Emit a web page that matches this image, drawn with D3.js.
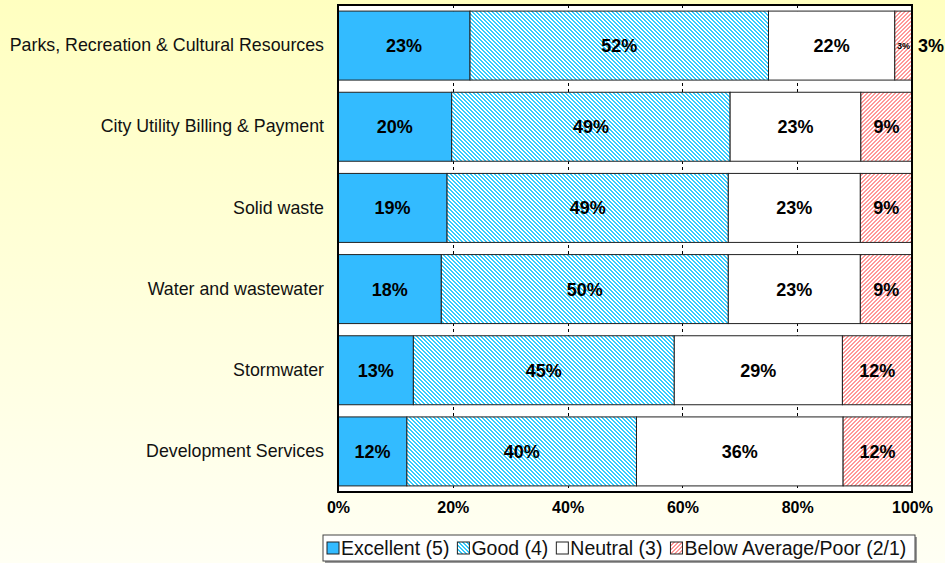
<!DOCTYPE html>
<html lang="en">
    <head>
        <meta charset="utf-8">
        <script src="https://cdn.jsdelivr.net/npm/d3@7"></script>
        <style type="text/css">
        body {
          margin: 0;
          font-family: "Liberation Sans", Arial, sans-serif;
        }
        </style>
    </head>
    <body>
        <script>
                  // data (percent of respondents)
                  var categories = ["Parks, Recreation & Cultural Resources", "City Utility Billing & Payment",
                                    "Solid waste", "Water and wastewater", "Stormwater", "Development Services"];
                  var excellent = [23, 20, 19, 18, 13, 12];
                  var good = [52, 49, 49, 50, 45, 40];
                  var neutral = [22, 23, 23, 23, 29, 36];
                  var below = [3, 9, 9, 9, 12, 12];
                  var seriesNames = ["Excellent (5)", "Good (4)", "Neutral (3)", "Below Average/Poor (2/1)"];
                  var xTicks = [0, 0.2, 0.4, 0.6, 0.8, 1];

                  var w = 945;
                  var h = 563;
                  var plotLeft = 338, plotRight = 912, plotTop = 5, plotBottom = 492;

                  var svg = d3.select("body")
                              .append("svg")
                              .attr("width", w)
                              .attr("height", h);

                  var defs = svg.append("defs");

                  // yellow page background
                  var grad = defs.append("linearGradient")
                      .attr("id", "bg")
                      .attr("x1", 0).attr("y1", 0).attr("x2", 0).attr("y2", 1);
                  grad.append("stop").attr("offset", "0%").attr("stop-color", "#ffffc0");
                  grad.append("stop").attr("offset", "100%").attr("stop-color", "#fffff4");

                  // hatch patterns, built pixel by pixel
                  function hatch(id, colour, down) {
                    var p = defs.append("pattern")
                        .attr("id", id)
                        .attr("patternUnits", "userSpaceOnUse")
                        .attr("width", 4).attr("height", 4);
                    p.append("rect").attr("width", 4).attr("height", 4).attr("fill", "#fff");
                    for (var y = 0; y < 4; y++) {
                      var x0 = down ? y : 3 - y;
                      [x0, (x0 + 1) % 4].forEach(function(x) {
                        p.append("rect")
                          .attr("x", x).attr("y", y)
                          .attr("width", 1).attr("height", 1)
                          .attr("fill", colour)
                          .attr("shape-rendering", "crispEdges");
                      });
                    }
                  }
                  hatch("goodHatch", "#33ccff", true);
                  hatch("belowHatch", "#ff9999", false);

                  var fills = ["#33bbff", "url(#goodHatch)", "#ffffff", "url(#belowHatch)"];

                  svg.append("rect")
                     .attr("width", w).attr("height", h)
                     .attr("fill", "url(#bg)");

                  var rows = categories.map(function(c, i) {
                    return {cat: c, s0: excellent[i], s1: good[i], s2: neutral[i], s3: below[i]};
                  });
                  var keys = ["s0", "s1", "s2", "s3"];
                  var stacked = d3.stack().keys(keys).offset(d3.stackOffsetExpand)(rows);

                  var xScale = d3.scaleLinear()
                    .domain([0, 1])
                    .range([plotLeft, plotRight]);

                  var yScale = d3.scaleBand()
                    .domain(categories)
                    .range([plotTop, plotBottom])
                    .paddingInner(0.15)
                    .paddingOuter(0.075);

                  // plot area
                  svg.append("rect")
                     .attr("x", plotLeft).attr("y", plotTop)
                     .attr("width", plotRight - plotLeft).attr("height", plotBottom - plotTop)
                     .attr("fill", "#fff");

                  // dashed gridlines (only show in the gaps)
                  svg.append("g")
                     .selectAll("line")
                     .data(xTicks.slice(1, -1))
                     .enter()
                     .append("line")
                     .attr("x1", function(d) { return Math.round(xScale(d)) + 0.5; })
                     .attr("x2", function(d) { return Math.round(xScale(d)) + 0.5; })
                     .attr("y1", plotTop).attr("y2", plotBottom)
                     .attr("stroke", "#000")
                     .attr("stroke-dasharray", "3,3");

                  // stacked bars
                  var layer = svg.selectAll("g.layer")
                     .data(stacked)
                     .enter()
                     .append("g")
                     .attr("class", "layer")
                     .attr("fill", function(d, i) { return fills[i]; });

                  layer.selectAll("rect")
                     .data(function(d) { return d; })
                     .enter()
                     .append("rect")
                     .attr("x", function(d) { return xScale(d[0]); })
                     .attr("y", function(d) { return yScale(d.data.cat); })
                     .attr("width", function(d) { return xScale(d[1]) - xScale(d[0]); })
                     .attr("height", yScale.bandwidth())
                     .attr("stroke", "#222")
                     .attr("stroke-width", 1);

                  // value labels
                  layer.selectAll("text")
                     .data(function(d) { return d.map(function(p) { return {p: p, key: d.key}; }); })
                     .enter()
                     .append("text")
                     .attr("x", function(d) { return (xScale(d.p[0]) + xScale(d.p[1])) / 2; })
                     .attr("y", function(d) { return yScale(d.p.data.cat) + yScale.bandwidth() / 2; })
                     .attr("dy", "0.36em")
                     .attr("text-anchor", "middle")
                     .attr("fill", "#000")
                     .attr("font-weight", "bold")
                     .attr("font-size", function(d) { return d.p.data[d.key] < 5 ? 9 : 18; })
                     .text(function(d) { return d.p.data[d.key] + "%"; });

                  // small slice also gets a label outside the bar
                  svg.selectAll("text.outside")
                     .data(rows.filter(function(r) { return r.s3 < 5; }))
                     .enter()
                     .append("text")
                     .attr("class", "outside")
                     .attr("x", plotRight + 6)
                     .attr("y", function(d) { return yScale(d.cat) + yScale.bandwidth() / 2; })
                     .attr("dy", "0.36em")
                     .attr("font-weight", "bold")
                     .attr("font-size", 18)
                     .text(function(d) { return d.s3 + "%"; });

                  // plot border
                  svg.append("rect")
                     .attr("x", plotLeft).attr("y", plotTop)
                     .attr("width", plotRight - plotLeft).attr("height", plotBottom - plotTop)
                     .attr("fill", "none")
                     .attr("stroke", "#000")
                     .attr("stroke-width", 2);

                  // category labels
                  var yAxis = svg.append("g")
                      .attr("transform", "translate(" + (plotLeft - 14) + ",0)")
                      .call(d3.axisLeft(yScale).tickSize(0).tickPadding(0));
                  yAxis.select(".domain").remove();
                  yAxis.selectAll("text")
                      .attr("font-family", "Liberation Sans, Arial, sans-serif")
                      .attr("font-size", 17.8)
                      .attr("fill", "#111");

                  // x axis
                  var xAxis = svg.append("g")
                      .attr("transform", "translate(0," + plotBottom + ")")
                      .call(d3.axisBottom(xScale).tickValues(xTicks).tickFormat(d3.format(".0%")).tickSize(0).tickPadding(10));
                  xAxis.select(".domain").remove();
                  xAxis.selectAll("text")
                      .attr("font-family", "Liberation Sans, Arial, sans-serif")
                      .attr("font-size", 16)
                      .attr("font-weight", "bold")
                      .attr("fill", "#000");

                  // legend
                  var legendX = 323, legendY = 535, legendW = 592, legendH = 26;
                  svg.append("rect")
                     .attr("x", legendX + 2).attr("y", legendY + 2)
                     .attr("width", legendW).attr("height", legendH)
                     .attr("fill", "#999");
                  svg.append("rect")
                     .attr("x", legendX).attr("y", legendY)
                     .attr("width", legendW).attr("height", legendH)
                     .attr("fill", "#fff")
                     .attr("stroke", "#444");

                  var lx = legendX + 4;
                  seriesNames.forEach(function(name, i) {
                    svg.append("rect")
                       .attr("x", lx).attr("y", legendY + legendH / 2 - 6)
                       .attr("width", 12).attr("height", 12)
                       .attr("fill", fills[i])
                       .attr("stroke", "#222");
                    var t = svg.append("text")
                       .attr("x", lx + 14)
                       .attr("y", legendY + legendH / 2)
                       .attr("dy", "0.36em")
                       .attr("font-size", 19.5)
                       .attr("fill", "#111")
                       .text(name);
                    lx += 14 + t.node().getComputedTextLength() + 8;
                  });
        </script>
    </body>
</html>
